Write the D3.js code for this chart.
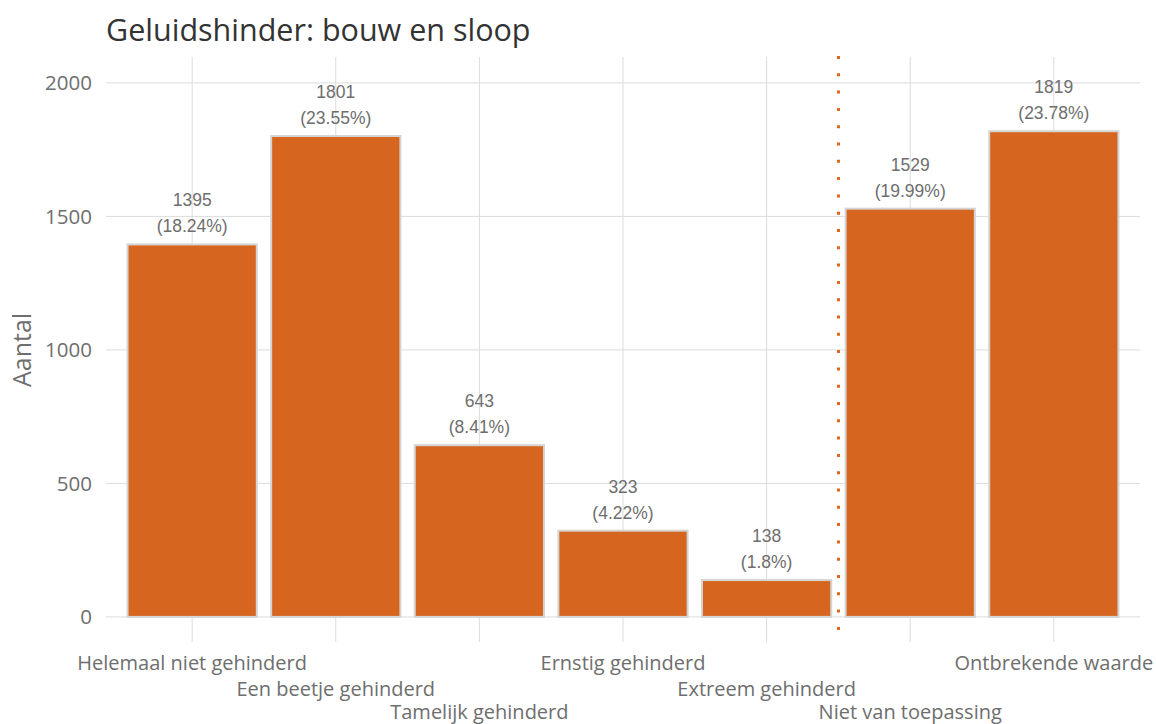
<!DOCTYPE html>
<html>
<head>
<meta charset="utf-8">
<script src="https://cdn.jsdelivr.net/npm/d3@7"></script>
<style>
  body { margin: 0; background: #fff; }
  svg { display: block; }
</style>
</head>
<body>
<svg id="chart" width="1156" height="724"></svg>
<script>
const categories = ["Helemaal niet gehinderd", "Een beetje gehinderd", "Tamelijk gehinderd", "Ernstig gehinderd", "Extreem gehinderd", "Niet van toepassing", "Ontbrekende waarde"];
const counts = [1395, 1801, 643, 323, 138, 1529, 1819];
const percents = ["18.24%", "23.55%", "8.41%", "4.22%", "1.8%", "19.99%", "23.78%"];
const yTicks = [0, 500, 1000, 1500, 2000];
const separatorAfter = 5; // dotted line between category 5 and 6

const panel = { left: 106, right: 1140, top: 57, bottom: 642 };
const orange = "#d6661f";
const textGrey = "#6e6e6e";
const gridCol = "#dcdcdc";

const svg = d3.select("#chart");

const x = d3.scaleLinear().domain([0.4, categories.length + 0.6]).range([panel.left, panel.right]);
const y = d3.scaleLinear().domain([-94, 2097]).range([panel.bottom, panel.top]);
const barW = x(1.45) - x(0.55);

// gridlines
svg.append("g").selectAll("line").data(yTicks).join("line")
  .attr("x1", panel.left).attr("x2", panel.right)
  .attr("y1", d => y(d)).attr("y2", d => y(d))
  .attr("stroke", gridCol).attr("stroke-width", 1);
svg.append("g").selectAll("line").data(categories).join("line")
  .attr("x1", (d, i) => x(i + 1)).attr("x2", (d, i) => x(i + 1))
  .attr("y1", panel.top).attr("y2", panel.bottom)
  .attr("stroke", gridCol).attr("stroke-width", 1);

// bars
svg.append("g").selectAll("rect").data(counts).join("rect")
  .attr("x", (d, i) => x(i + 1) - barW / 2)
  .attr("width", barW)
  .attr("y", d => y(d))
  .attr("height", d => y(0) - y(d))
  .attr("fill", orange)
  .attr("stroke", "#d4d4d4")
  .attr("stroke-width", 2);

// value labels
const lab = svg.append("g")
  .attr("font-family", "'Liberation Sans', Arial, sans-serif")
  .attr("font-size", 17.5)
  .attr("fill", textGrey)
  .attr("text-anchor", "middle");
counts.forEach((d, i) => {
  lab.append("text").attr("x", x(i + 1)).attr("y", y(d) - 38).text(d);
  lab.append("text").attr("x", x(i + 1)).attr("y", y(d) - 12).text("(" + percents[i] + ")");
});

// dotted separator
const sepX = Math.round(x(separatorAfter + 0.5)) + 0.5;
svg.append("line")
  .attr("x1", sepX).attr("x2", sepX)
  .attr("y1", panel.top - 1).attr("y2", panel.bottom)
  .attr("stroke", "#e0661c").attr("stroke-width", 3)
  .attr("stroke-dasharray", "3,14.3");

const axisFont = "'Open Sans', 'Noto Sans', sans-serif";

// y tick labels
svg.append("g").selectAll("text").data(yTicks).join("text")
  .attr("x", 92).attr("y", d => y(d)).attr("dy", "0.36em")
  .attr("text-anchor", "end")
  .attr("font-family", axisFont).attr("font-size", 20.5)
  .attr("fill", textGrey)
  .text(d => d);

// x tick labels, dodged in 3 rows
const rowY = [670, 696, 719];
svg.append("g").selectAll("text").data(categories).join("text")
  .attr("x", (d, i) => x(i + 1))
  .attr("y", (d, i) => rowY[i % 3])
  .attr("text-anchor", "middle")
  .attr("font-family", axisFont).attr("font-size", 20)
  .attr("fill", textGrey)
  .text(d => d);

// y axis title
svg.append("text")
  .attr("transform", "translate(31," + y(1000) + ") rotate(-90)")
  .attr("text-anchor", "middle")
  .attr("font-family", axisFont).attr("font-size", 25)
  .attr("fill", textGrey)
  .text("Aantal");

// title
svg.append("text")
  .attr("x", 106).attr("y", 41)
  .attr("font-family", axisFont).attr("font-size", 30.5)
  .attr("fill", "#333333")
  .text("Geluidshinder: bouw en sloop");
</script>
</body>
</html>
